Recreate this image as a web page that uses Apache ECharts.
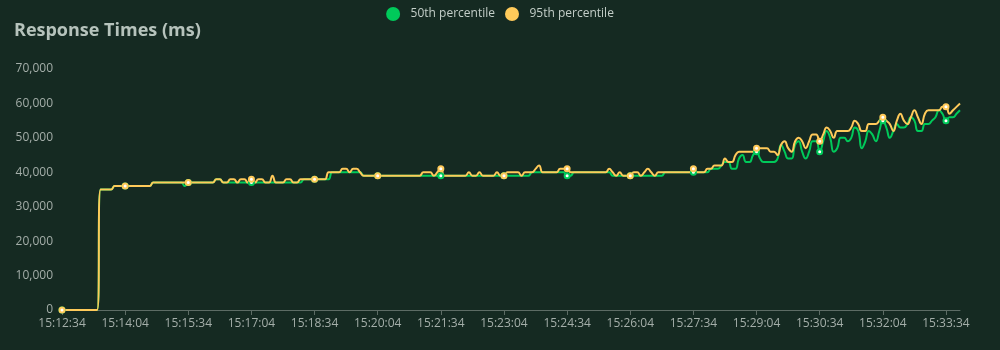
<!DOCTYPE html>
<html>
<head>
<meta charset="utf-8">
<script src="https://cdn.jsdelivr.net/npm/echarts@6/dist/echarts.min.js"></script>
<style>
  html, body { margin: 0; padding: 0; background: #152a22; }
  #chart { width: 1000px; height: 350px; }
</style>
</head>
<body>
<div id="chart"></div>
<script>
// Sample timestamps, one every 5 seconds
const times = [
  "15:12:34","15:12:39","15:12:44","15:12:49","15:12:54","15:12:59","15:13:04","15:13:09","15:13:14","15:13:19","15:13:24","15:13:29",
  "15:13:34","15:13:39","15:13:44","15:13:49","15:13:54","15:13:59","15:14:04","15:14:09","15:14:14","15:14:19","15:14:24","15:14:29",
  "15:14:34","15:14:39","15:14:44","15:14:49","15:14:54","15:14:59","15:15:04","15:15:09","15:15:14","15:15:19","15:15:24","15:15:29",
  "15:15:34","15:15:39","15:15:44","15:15:49","15:15:54","15:15:59","15:16:04","15:16:09","15:16:14","15:16:19","15:16:24","15:16:29",
  "15:16:34","15:16:39","15:16:44","15:16:49","15:16:54","15:16:59","15:17:04","15:17:09","15:17:14","15:17:19","15:17:24","15:17:29",
  "15:17:34","15:17:39","15:17:44","15:17:49","15:17:54","15:17:59","15:18:04","15:18:09","15:18:14","15:18:19","15:18:24","15:18:29",
  "15:18:34","15:18:39","15:18:44","15:18:49","15:18:54","15:18:59","15:19:04","15:19:09","15:19:14","15:19:19","15:19:24","15:19:29",
  "15:19:34","15:19:39","15:19:44","15:19:49","15:19:54","15:19:59","15:20:04","15:20:09","15:20:14","15:20:19","15:20:24","15:20:29",
  "15:20:34","15:20:39","15:20:44","15:20:49","15:20:54","15:20:59","15:21:04","15:21:09","15:21:14","15:21:19","15:21:24","15:21:29",
  "15:21:34","15:21:39","15:21:44","15:21:49","15:21:54","15:21:59","15:22:04","15:22:09","15:22:14","15:22:19","15:22:24","15:22:29",
  "15:22:34","15:22:39","15:22:44","15:22:49","15:22:54","15:22:59","15:23:04","15:23:09","15:23:14","15:23:19","15:23:24","15:23:29",
  "15:23:34","15:23:39","15:23:44","15:23:49","15:23:54","15:23:59","15:24:04","15:24:09","15:24:14","15:24:19","15:24:24","15:24:29",
  "15:24:34","15:24:39","15:24:44","15:24:49","15:24:54","15:24:59","15:25:04","15:25:09","15:25:14","15:25:19","15:25:24","15:25:29",
  "15:25:34","15:25:39","15:25:44","15:25:49","15:25:54","15:25:59","15:26:04","15:26:09","15:26:14","15:26:19","15:26:24","15:26:29",
  "15:26:34","15:26:39","15:26:44","15:26:49","15:26:54","15:26:59","15:27:04","15:27:09","15:27:14","15:27:19","15:27:24","15:27:29",
  "15:27:34","15:27:39","15:27:44","15:27:49","15:27:54","15:27:59","15:28:04","15:28:09","15:28:14","15:28:19","15:28:24","15:28:29",
  "15:28:34","15:28:39","15:28:44","15:28:49","15:28:54","15:28:59","15:29:04","15:29:09","15:29:14","15:29:19","15:29:24","15:29:29",
  "15:29:34","15:29:39","15:29:44","15:29:49","15:29:54","15:29:59","15:30:04","15:30:09","15:30:14","15:30:19","15:30:24","15:30:29",
  "15:30:34","15:30:39","15:30:44","15:30:49","15:30:54","15:30:59","15:31:04","15:31:09","15:31:14","15:31:19","15:31:24","15:31:29",
  "15:31:34","15:31:39","15:31:44","15:31:49","15:31:54","15:31:59","15:32:04","15:32:09","15:32:14","15:32:19","15:32:24","15:32:29",
  "15:32:34","15:32:39","15:32:44","15:32:49","15:32:54","15:32:59","15:33:04","15:33:09","15:33:14","15:33:19","15:33:24","15:33:29",
  "15:33:34","15:33:39","15:33:44","15:33:49","15:33:54"
];

// 50th percentile response time (ms)
const p50 = [
  0,0,0,0,0,0,0,0,0,0,
  0,35000,35000,35000,35000,36000,36000,36000,36000,36000,
  36000,36000,36000,36000,36000,36000,37000,37000,37000,37000,
  37000,37000,37000,37000,37000,36000,37000,37000,37000,37000,
  37000,37000,37000,37000,38000,38000,37000,37000,37000,37000,
  37000,37000,37000,37000,37000,37000,37000,37000,37000,37000,
  37000,37000,37000,37000,37000,37000,37000,37000,37000,38000,
  38000,38000,38000,38000,38000,38000,38000,40000,40000,40000,
  40000,40000,40000,40000,40000,40000,39000,39000,39000,39000,
  39000,39000,39000,39000,39000,39000,39000,39000,39000,39000,
  39000,39000,39000,39000,39000,39000,39000,39000,39000,39000,
  39000,39000,39000,39000,39000,39000,39000,39000,39000,39000,
  39000,39000,39000,39000,39000,39000,39000,39000,39000,39000,
  39000,39000,39000,39000,40000,40000,40000,40000,40000,40000,
  40000,40000,40000,40000,39000,39000,40000,40000,40000,40000,
  40000,40000,40000,40000,40000,40000,40000,39000,39000,39000,
  39000,39000,39000,39000,39000,39000,39000,39000,39000,39000,
  39000,39000,40000,40000,40000,40000,40000,40000,40000,40000,
  40000,40000,40000,40000,40000,41000,41000,41000,42000,43000,
  43000,41000,41000,44000,45000,43000,43000,45000,46000,44000,
  43000,43000,43000,43000,44000,48000,46000,44000,44000,48000,
  49000,46000,44000,46000,49000,49000,46000,49000,52000,50000,
  46000,47000,50000,50000,49000,50000,53000,52000,47000,49000,
  52000,51000,49000,52000,55000,53000,50000,52000,54000,53000,
  53000,54000,56000,55000,52000,52000,54000,54000,55000,56000,
  58000,57000,55000,56000,56000,57000,58000
];

// 95th percentile response time (ms)
const p95 = [
  0,0,0,0,0,0,0,0,0,0,
  0,35000,35000,35000,35000,36000,36000,36000,36000,36000,
  36000,36000,36000,36000,36000,36000,37000,37000,37000,37000,
  37000,37000,37000,37000,37000,37000,37000,37000,37000,37000,
  37000,37000,37000,37000,38000,38000,37000,37000,38000,38000,
  37000,38000,38000,37000,38000,37000,38000,38000,37000,37000,
  39000,37000,37000,37000,38000,38000,37000,37000,38000,38000,
  38000,38000,38000,38000,38000,38000,40000,40000,40000,40000,
  41000,41000,40000,41000,41000,40000,39000,39000,39000,39000,
  39000,39000,39000,39000,39000,39000,39000,39000,39000,39000,
  39000,39000,39000,40000,40000,40000,39000,40000,41000,39000,
  39000,39000,39000,39000,39000,39000,40000,39000,39000,40000,
  39000,39000,39000,39000,40000,39000,39000,40000,40000,40000,
  40000,39000,40000,40000,40000,41000,42000,40000,40000,40000,
  40000,40000,41000,41000,41000,40000,40000,40000,40000,40000,
  40000,40000,40000,40000,40000,40000,41000,40000,39000,40000,
  39000,39000,39000,40000,40000,39000,40000,41000,40000,39000,
  40000,40000,40000,40000,40000,40000,40000,40000,40000,40000,
  41000,40000,40000,40000,41000,41000,42000,42000,42000,44000,
  43000,43000,45000,46000,46000,46000,46000,46000,47000,47000,
  47000,47000,46000,46000,45000,48000,49000,47000,46000,49000,
  50000,49000,47000,49000,51000,51000,49000,51000,53000,52000,
  50000,52000,52000,52000,52000,53000,55000,54000,52000,52000,
  54000,54000,54000,55000,56000,55000,54000,52000,55000,57000,
  55000,54000,56000,58000,56000,54000,57000,58000,58000,58000,
  58000,59000,59000,57000,58000,59000,60000
];

const seriesNames = ['50th percentile', '95th percentile'];
const seriesColors = ['#00ca5a', '#ffca5a'];

const chart = echarts.init(document.getElementById('chart'), null, { renderer: 'canvas' });

chart.setOption({
  backgroundColor: '#152a22',
  animation: false,
  textStyle: { fontFamily: 'Open Sans, Noto Sans, sans-serif' },
  color: seriesColors,
  title: {
    text: 'Response Times (ms)',
    left: 9,
    top: 17,
    textStyle: { color: '#b6c3bc', fontSize: 18, fontWeight: 'bold', fontFamily: 'Open Sans, Noto Sans, sans-serif' }
  },
  legend: {
    top: 2,
    left: 'center',
    icon: 'circle',
    itemWidth: 25,
    itemHeight: 14,
    itemGap: 10,
    textStyle: { color: '#c3cec8', fontSize: 12 },
    data: seriesNames
  },
  grid: { left: 62, right: 40, top: 69, bottom: 40, containLabel: false },
  xAxis: {
    type: 'category',
    boundaryGap: false,
    data: times,
    axisLine: { show: true, lineStyle: { color: '#5d6c65', width: 1 } },
    axisTick: { show: true, interval: 17, length: 5, lineStyle: { color: '#5d6c65' } },
    axisLabel: { interval: 17, color: '#a4aea9', fontSize: 12, margin: 8 },
    splitLine: { show: false }
  },
  yAxis: {
    type: 'value',
    min: 0,
    max: 70000,
    interval: 10000,
    axisLine: { show: false },
    axisTick: { show: false },
    axisLabel: { color: '#a4aea9', fontSize: 12, margin: 9 },
    splitLine: { show: false }
  },
  series: [
    {
      name: seriesNames[0],
      type: 'line',
      data: p50,
      smooth: true,
      symbol: 'emptyCircle',
      symbolSize: 5,
      lineStyle: { width: 2, color: seriesColors[0] },
      itemStyle: { color: seriesColors[0], borderWidth: 2 }
    },
    {
      name: seriesNames[1],
      type: 'line',
      data: p95,
      smooth: true,
      symbol: 'emptyCircle',
      symbolSize: 5,
      lineStyle: { width: 2, color: seriesColors[1] },
      itemStyle: { color: seriesColors[1], borderWidth: 2 }
    }
  ]
});
</script>
</body>
</html>
